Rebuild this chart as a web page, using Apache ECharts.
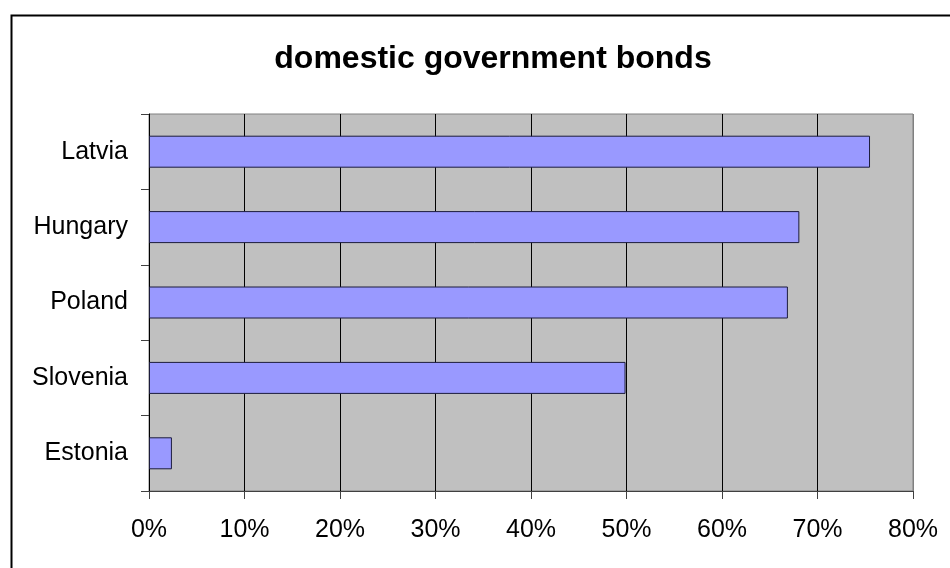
<!DOCTYPE html>
<html>
<head>
<meta charset="utf-8">
<script src="https://cdn.jsdelivr.net/npm/echarts@6/dist/echarts.min.js"></script>
<style>
  html, body { margin: 0; padding: 0; background: #fff; }
  #chart { width: 950px; height: 568px; }
</style>
</head>
<body>
<div id="chart"></div>
<script>
// Countries, listed from top to bottom
const countries = ['Latvia', 'Hungary', 'Poland', 'Slovenia', 'Estonia'];
// Share held in domestic government bonds (%)
const shares = [75.5, 68.1, 66.9, 49.9, 2.4];
// Value axis ticks (%)
const xTicks = [0, 10, 20, 30, 40, 50, 60, 70, 80];

const FONT = 'Liberation Sans, Arial, sans-serif';
const chart = echarts.init(document.getElementById('chart'), null, { renderer: 'canvas' });

// grid lines are black except the last one, which sits on the gray plot border
const splitColors = xTicks.map((t, i) => (i === xTicks.length - 1 ? '#808080' : '#000000'));

chart.setOption({
  animation: false,
  backgroundColor: '#ffffff',
  title: {
    text: 'domestic government bonds',
    left: 488,
    textAlign: 'center',
    top: 38,
    textStyle: { fontFamily: FONT, fontSize: 32, fontWeight: 'bold', color: '#000' }
  },
  graphic: [{
    type: 'rect',
    left: 9, top: 13,
    shape: { width: 1000, height: 600 },
    style: { fill: 'none', stroke: '#000', lineWidth: 2 },
    silent: true
  }],
  grid: {
    left: 149, top: 114, right: 37, bottom: 77,
    show: true,
    backgroundColor: '#C0C0C0',
    borderColor: '#808080',
    borderWidth: 1
  },
  xAxis: {
    type: 'value',
    min: xTicks[0],
    max: xTicks[xTicks.length - 1],
    interval: 10,
    axisLine: { show: true, lineStyle: { color: '#404040', width: 1 } },
    axisTick: { show: true, length: 8, lineStyle: { color: '#404040' } },
    splitLine: { show: true, lineStyle: { color: splitColors, width: 1 } },
    axisLabel: {
      margin: 27,
      fontFamily: FONT, fontSize: 25, color: '#000',
      formatter: v => v + '%'
    }
  },
  yAxis: {
    type: 'category',
    data: countries,
    inverse: true,
    axisLine: { show: true, lineStyle: { color: '#000', width: 1 } },
    axisTick: { show: true, length: 8, lineStyle: { color: '#404040' } },
    splitLine: { show: false },
    axisLabel: { margin: 21, fontFamily: FONT, fontSize: 25, color: '#000' }
  },
  series: [{
    type: 'bar',
    data: shares,
    barWidth: 32,
    itemStyle: { color: '#9999FF', borderColor: '#1c1c3c', borderWidth: 1 }
  }]
});
</script>
</body>
</html>
